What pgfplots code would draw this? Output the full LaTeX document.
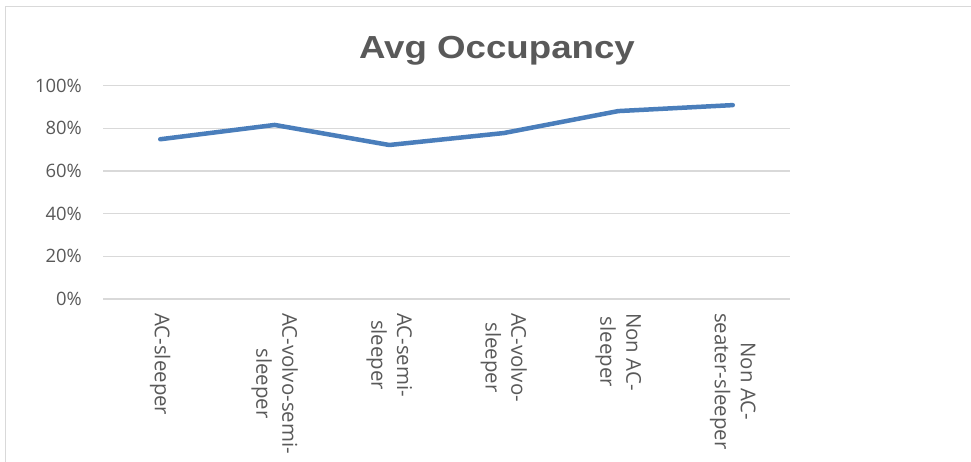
\documentclass[border=0pt]{standalone}
\usepackage{pgfplots}
\pgfplotsset{compat=1.18}
\usepackage{graphicx}
\usepackage{fontspec}
\setmainfont{Open Sans}
\newfontfamily\titlefont{Liberation Sans}
\definecolor{txt}{HTML}{595959}
\definecolor{gridc}{HTML}{D9D9D9}
\definecolor{ser}{HTML}{4A7EBB}
\definecolor{framec}{HTML}{D9D9D9}
\begin{document}
\begin{tikzpicture}[x=1bp,y=1bp]
\useasboundingbox (0,0) rectangle (971,-462);
\clip (0,0) rectangle (971,-462);
\draw[framec, line width=1bp] (5,-470) -- (5,-7) -- (980,-7);
\node[anchor=base, text=txt, font=\titlefont\bfseries\fontsize{32}{38}\selectfont] at (497,-58.5) {\scalebox{1.15}[1]{Avg Occupancy}};
\begin{axis}[
  at={(103bp,-299bp)}, anchor=south west,
  scale only axis, width=687bp, height=213.3bp,
  xmin=-0.5, xmax=5.5, ymin=0, ymax=100,
  axis line style={draw=none},
  xtick={0,1,2,3,4,5},
  xticklabels={{AC-sleeper},{AC-volvo-semi-\\sleeper},{AC-semi-\\sleeper},{AC-volvo-\\sleeper},{Non AC-\\sleeper},{Non AC-\\seater-sleeper}},
  ytick={0,20,40,60,80,100},
  yticklabels={0\%,20\%,40\%,60\%,80\%,100\%},
  major tick length=0pt,
  xmajorgrids=false,
  ymajorgrids=true,
  xtick style={draw=none},
  ytick style={draw=none},
  y grid style={gridc, line width=1.3bp},
  xticklabel style={rotate=-90, anchor=west, align=center, text=txt, inner sep=0pt, font=\fontsize{20.5}{26}\selectfont},
  xticklabel shift=14bp,
  yticklabel style={anchor=east, text=txt, inner sep=0pt, font=\fontsize{18.5}{22}\selectfont},
  yticklabel shift=21bp,
  clip=false,
]
\addplot[ser, line width=4.5bp, line cap=round, line join=round] coordinates {
(0,74.9) (1,81.6) (2,72.2) (3,77.8) (4,88.1) (5,90.9)
};
\end{axis}
\end{tikzpicture}
\end{document}
